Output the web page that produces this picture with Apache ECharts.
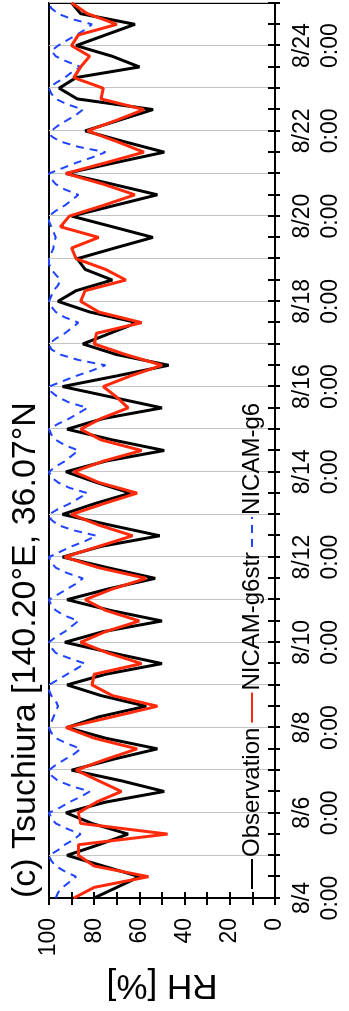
<!DOCTYPE html>
<html>
<head>
<meta charset="utf-8">
<script src="https://cdn.jsdelivr.net/npm/echarts@6/dist/echarts.min.js"></script>
<style>
html, body { margin: 0; padding: 0; background: #fff; overflow: hidden; width: 349px; height: 1011px; }
/* the figure is drawn landscape and turned a quarter turn, like the original */
#chart { position: absolute; left: 0; top: 0; width: 1011px; height: 349px;
  transform-origin: 0 0; transform: translateY(1011px) rotate(-90deg); }
</style>
</head>
<body>
<div id="chart"></div>
<script>
// hours after 8/4 0:00
var hourMax = 504;
var rhTicks = [0, 20, 40, 60, 80, 100];

// Observation, every 6 h (0, 6, 12, 18 h per day), 8/4 .. 8/25 0:00
var obsRH = [
  80, 70, 60, 76,   92, 78, 65, 81,   92.5, 75, 49, 68,   90, 72, 52, 75,
  92, 78, 57, 77,   92, 75, 50, 72,   93, 76, 50, 73,     92, 74, 53, 74,
  94, 77, 51, 73,   94, 80, 64, 79,   92.5, 75, 49, 72,   92, 76, 50, 72,
  94, 70, 47, 70,   85, 73, 61, 82,   96, 88, 72, 84,     87.5, 71, 54, 72,
  90, 71, 52, 72,   92.5, 71, 49, 67, 84, 69, 54, 87.5,   95.5, 88, 60, 72,
  88, 75, 62, 86,   90
];

// NICAM-g6str, every 6 h
var strRH = [
  89, 80, 56, 80,   87, 87, 47.5, 86, 87, 79, 68, 78,     88, 75, 61, 80,
  92.5, 72, 52, 72, 81, 80, 59, 74,   86, 75, 60, 75,     84, 72, 57, 78,
  93, 78, 63, 78,   90, 76, 61, 78,   89, 76, 59, 77,     86, 77, 65, 70,
  76, 64, 50, 66,   80, 79, 59, 78,   86, 84, 66, 75,     88, 90, 78, 95,
  91, 76, 62, 76,   92.5, 75, 58, 70, 83, 70, 58, 77,     76, 89, 86, 82,
  90, 87, 70, 83,   90
];

// NICAM-g6, every 3 h
var g6RH = [
  97, 96, 94, 91, 88, 93, 97, 99,
  100, 96, 93, 89, 86, 92, 97, 99,
  100, 95, 91, 86, 82, 90, 96, 99,
  100, 97, 93, 89, 86, 92, 97, 99,
  100, 99, 98, 97, 96, 97, 99, 100,
  100, 96, 92, 88, 84, 91, 97, 99,
  100, 97, 93, 90, 87, 93, 97, 99,
  100, 96, 92, 88, 85, 92, 97, 99,
  100, 95, 90, 84, 79, 89, 96, 99,
  100, 96, 91, 87, 83, 91, 96, 99,
  100, 97, 93, 90, 87, 93, 97, 99,
  100, 96, 91, 87, 83, 91, 96, 99,
  100, 94, 88, 81, 75, 87, 95, 99,
  100, 97, 93, 90, 87, 93, 97, 99,
  100, 99, 98, 96, 95, 97, 99, 100,
  100, 99, 98, 98, 97, 98, 99, 100,
  100, 97, 93, 90, 87, 93, 97, 99,
  100, 94, 88, 81, 75, 87, 95, 99,
  99, 96, 92, 88, 85, 92, 97, 99,
  100, 97, 93, 90, 86, 92, 97, 99,
  96, 92, 88, 84, 81, 90, 96, 99,
  100
];

var seriesNames = ["Observation", "NICAM-g6str", "NICAM-g6"];

function pairs(vals, step) {
  return vals.map(function (v, i) { return [i * step, v]; });
}

var font = "Liberation Sans, Arial, Helvetica, sans-serif";
var chart = echarts.init(document.getElementById("chart"));

var option = {
  animation: false,
  textStyle: { fontFamily: font },
  title: {
    text: "(c) Tsuchiura [140.20°E, 36.07°N",
    left: 113,
    top: 9,
    padding: 0,
    textStyle: { fontSize: 34, fontWeight: "normal", color: "#000", fontFamily: font }
  },
  legend: {
    data: seriesNames,
    left: 121,
    top: 240,
    padding: 0,
    itemGap: 4,
    itemWidth: 30,
    itemHeight: 14,
    itemStyle: { opacity: 0 },
    textStyle: { fontSize: 24, color: "#000", fontFamily: font, padding: [0, 0, 0, -3] }
  },
  grid: [
    { left: 113, right: 3, top: 49, bottom: 74, show: true, borderColor: "#000", borderWidth: 2, backgroundColor: "transparent" },
    { left: 113, right: 3, top: 49, bottom: 74 }
  ],
  xAxis: [
    {
      type: "value", gridIndex: 0, min: 0, max: hourMax, interval: 24,
      axisLine: { lineStyle: { color: "#000", width: 2 } },
      axisTick: { length: 5, lineStyle: { color: "#000", width: 2 } },
      minorTick: { show: true, splitNumber: 2, length: 5, lineStyle: { color: "#000", width: 2 } },
      splitLine: { show: true, lineStyle: { color: "#c4c4c4", width: 1 } },
      axisLabel: {
        fontSize: 23, color: "#000", lineHeight: 28, margin: 14, fontFamily: font,
        formatter: function (v) {
          if (v % 48 !== 0 || v >= hourMax) return "";
          return "8/" + (4 + v / 24) + "\n0:00";
        }
      }
    },
    {
      type: "value", gridIndex: 1, min: 0, max: hourMax, interval: 24,
      axisLine: { show: false },
      axisTick: { inside: true, length: 7, lineStyle: { color: "#000", width: 2 } },
      minorTick: { show: true, splitNumber: 2, length: 7, lineStyle: { color: "#000", width: 2 } },
      splitLine: { show: false },
      axisLabel: { show: false }
    }
  ],
  yAxis: [
    {
      type: "value", gridIndex: 0, min: 0, max: 100, interval: 10,
      name: "RH [%]", nameLocation: "middle", nameRotate: 90, nameGap: 64,
      nameTextStyle: { fontSize: 35, color: "#000", fontFamily: font },
      axisLine: { lineStyle: { color: "#000", width: 2 } },
      axisTick: { length: 7, lineStyle: { color: "#000", width: 2 } },
      splitLine: { show: false },
      axisLabel: {
        fontSize: 23, color: "#000", margin: 20, fontFamily: font,
        formatter: function (v) { return rhTicks.indexOf(v) >= 0 ? v : ""; }
      }
    },
    {
      type: "value", gridIndex: 1, min: 0, max: 100, interval: 10,
      axisLine: { show: false },
      axisTick: { inside: true, length: 6, lineStyle: { color: "#000", width: 2 } },
      splitLine: { show: false },
      axisLabel: { show: false }
    }
  ],
  series: [
    {
      name: "NICAM-g6", type: "line", xAxisIndex: 0, yAxisIndex: 0,
      data: pairs(g6RH, 3), symbol: "none", z: 2,
      lineStyle: { color: "#1f44ff", width: 2, type: [8, 6] },
      itemStyle: { color: "#1f44ff" }
    },
    {
      name: "Observation", type: "line", xAxisIndex: 0, yAxisIndex: 0,
      data: pairs(obsRH, 6), symbol: "none", z: 3,
      lineStyle: { color: "#000", width: 3 },
      itemStyle: { color: "#000" }
    },
    {
      name: "NICAM-g6str", type: "line", xAxisIndex: 0, yAxisIndex: 0,
      data: pairs(strRH, 6), symbol: "none", z: 4,
      lineStyle: { color: "#ff2a0a", width: 3 },
      itemStyle: { color: "#ff2a0a" }
    }
  ]
};

chart.setOption(option);
</script>
</body>
</html>
